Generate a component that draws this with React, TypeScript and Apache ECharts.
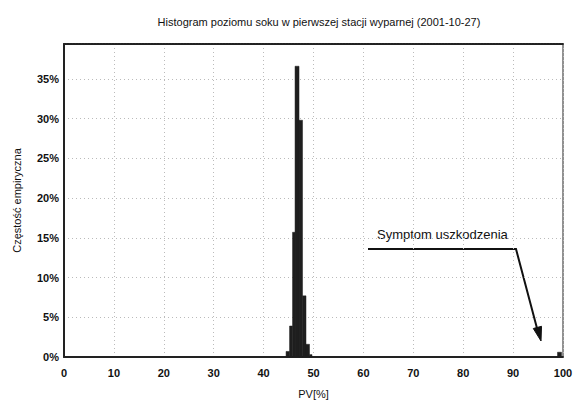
import React, { useEffect, useRef } from "react";
import * as echarts from "echarts";

const title = "Histogram poziomu soku w pierwszej stacji wyparnej (2001-10-27)";
const xName = "PV[%]";
const yName = "Częstość empiryczna";
const annotation = "Symptom uszkodzenia";

// histogram bins (PV %) and empirical frequency (%)
const binStart = [44.5, 45.2, 45.8, 46.3, 47.1, 47.8, 48.5, 49.2, 98.9];
const binEnd = [45.2, 45.8, 46.3, 47.1, 47.8, 48.5, 49.2, 49.7, 99.7];
const freq = [0.7, 3.9, 15.7, 36.6, 29.8, 7.7, 1.6, 0.3, 0.6];

const xTicks = [0, 10, 20, 30, 40, 50, 60, 70, 80, 90, 100];
const yTicks = [0, 5, 10, 15, 20, 25, 30, 35];

export default function App() {
  const ref = useRef<HTMLDivElement>(null);
  useEffect(() => {
    document.body.style.margin = "0";
    const chart = echarts.init(ref.current!, null, { renderer: "svg" });
    const font = "'Liberation Sans', Arial, sans-serif";
    const data = binStart.map((s, i) => [s, binEnd[i], freq[i]]);
    chart.setOption({
      animation: false,
      backgroundColor: "#ffffff",
      textStyle: { fontFamily: font },
      title: {
        text: title,
        left: 314,
        top: 11,
        textAlign: "center",
        textStyle: { fontSize: 11, fontWeight: "normal", color: "#111", fontFamily: font },
      },
      grid: {
        left: 64,
        right: 13,
        top: 44,
        bottom: 62,
        show: true,
        borderColor: "#222",
        borderWidth: 1,
        backgroundColor: "transparent",
      },
      xAxis: [
        {
          type: "value",
          min: xTicks[0],
          max: xTicks[xTicks.length - 1],
          interval: 10,
          name: xName,
          nameLocation: "middle",
          nameGap: 31,
          nameTextStyle: { fontSize: 11, color: "#111", fontFamily: font },
          axisLine: { lineStyle: { color: "#222", width: 2 } },
          axisTick: { show: false },
          axisLabel: { fontSize: 11, fontWeight: "bold", color: "#111", margin: 10, fontFamily: font },
          splitLine: { show: true, lineStyle: { color: "#bbb", type: [1, 3], width: 1 } },
        },
        {
          type: "value",
          position: "top",
          min: 0,
          max: 100,
          interval: 10,
          axisLine: { show: true, lineStyle: { color: "#222", width: 2, type: [2, 1] } },
          axisTick: { show: false },
          axisLabel: { show: false },
          splitLine: { show: false },
        },
      ],
      yAxis: {
        type: "value",
        min: 0,
        max: 39.4,
        interval: 5,
        name: yName,
        nameLocation: "middle",
        nameGap: 42,
        nameTextStyle: { fontSize: 11, color: "#111", fontFamily: font },
        axisLine: { show: true, lineStyle: { color: "#222", width: 2 } },
        axisTick: { show: false },
        axisLabel: {
          fontSize: 11,
          fontWeight: "bold",
          color: "#111",
          margin: 5,
          fontFamily: font,
          formatter: (v: number) => (yTicks.includes(v) ? v + "%" : ""),
        },
        splitLine: { show: true, lineStyle: { color: "#bbb", type: [1, 3], width: 1 } },
      },
      series: [
        {
          type: "custom",
          xAxisIndex: 0,
          encode: { x: [0, 1], y: 2 },
          data,
          renderItem: (params: any, api: any) => {
            const p0 = api.coord([api.value(0), 0]);
            const p1 = api.coord([api.value(1), api.value(2)]);
            return {
              type: "rect",
              shape: { x: p0[0], y: p1[1], width: p1[0] - p0[0], height: p0[1] - p1[1] },
              style: { fill: "#1e1e1e", stroke: "#1e1e1e", lineWidth: 0.5 },
            };
          },
        },
      ],
      graphic: [
        {
          type: "text",
          left: 377,
          top: 228,
          style: { text: annotation, fontSize: 13, fill: "#111", font: `13px ${font}` },
        },
        {
          type: "polyline",
          shape: { points: [[368, 249], [516, 249], [538, 332]] },
          style: { stroke: "#111", lineWidth: 2, fill: "none" },
        },
        {
          type: "polygon",
          shape: { points: [[533.3, 328.5], [541.5, 326.3], [541, 341]] },
          style: { fill: "#111", stroke: "#111", lineWidth: 1 },
        },
      ],
    });
    return () => chart.dispose();
  }, []);
  return <div ref={ref} style={{ width: 576, height: 419 }} />;
}
